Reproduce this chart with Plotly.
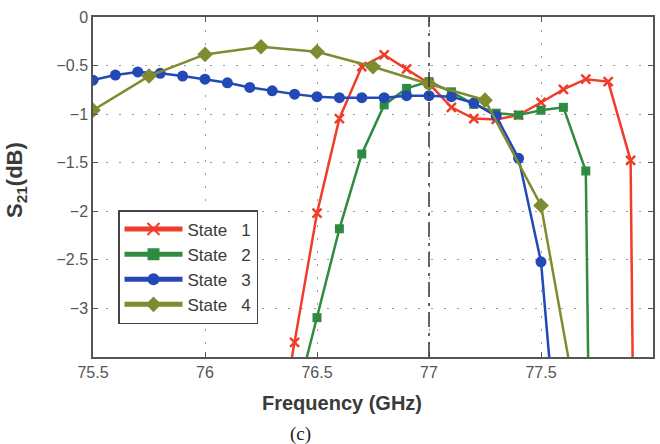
import plotly.graph_objects as go

# ---- data ----
freq1 = [76.3, 76.4, 76.5, 76.6, 76.7, 76.8, 76.9, 77.0, 77.1, 77.2, 77.3, 77.4, 77.5, 77.6, 77.7, 77.8, 77.9, 78.0]
s21_state1 = [-4.67, -3.35, -2.02, -1.045, -0.51, -0.39, -0.535, -0.685, -0.93, -1.045, -1.055, -1.01, -0.88, -0.745, -0.64, -0.665, -1.475, -24.0]

freq2 = [76.4, 76.5, 76.6, 76.7, 76.8, 76.9, 77.0, 77.1, 77.2, 77.3, 77.4, 77.5, 77.6, 77.7, 77.8]
s21_state2 = [-4.0, -3.095, -2.18, -1.41, -0.905, -0.735, -0.665, -0.77, -0.90, -0.99, -1.01, -0.96, -0.93, -1.585, -20.0]

freq3 = [75.5, 75.6, 75.7, 75.8, 75.9, 76.0, 76.1, 76.2, 76.3, 76.4, 76.5, 76.6, 76.7, 76.8, 76.9, 77.0, 77.1, 77.2, 77.3, 77.4, 77.5, 77.6]
s21_state3 = [-0.65, -0.598, -0.565, -0.58, -0.608, -0.64, -0.677, -0.725, -0.76, -0.794, -0.82, -0.83, -0.83, -0.83, -0.81, -0.81, -0.82, -0.885, -1.02, -1.455, -2.52, -5.2]

freq4 = [75.5, 75.75, 76.0, 76.25, 76.5, 76.75, 77.0, 77.25, 77.5, 77.75]
s21_state4 = [-0.96, -0.608, -0.385, -0.306, -0.357, -0.512, -0.69, -0.856, -1.94, -5.15]

series_names = ["State 1", "State 2", "State 3", "State 4"]
x_ticks = [75.5, 76, 76.5, 77, 77.5, 78]
x_ticklabels = ["75.5", "76", "76.5", "77", "77.5", "78"]
y_ticks = [0, -0.5, -1, -1.5, -2, -2.5, -3]
y_ticklabels = ["0", "\u22120.5", "\u22121", "\u22121.5", "\u22122", "\u22122.5", "\u22123"]
marker_freq = 77.0

colors = ["#f23c2a", "#2e8b40", "#2349b6", "#7f8b2e"]
symbols = ["x-thin", "square", "circle", "diamond"]
sizes = [9, 9, 11, 12]

NB = "\u00a0"

def legend_label(name):
    word, num = name.split(" ")
    return word + NB + NB + NB + num

fig = go.Figure()
for xs, ys, name, c, sym, sz in zip(
    [freq1, freq2, freq3, freq4],
    [s21_state1, s21_state2, s21_state3, s21_state4],
    series_names, colors, symbols, sizes):
    fig.add_trace(go.Scatter(
        x=xs, y=ys, name=legend_label(name), mode="lines+markers",
        line=dict(color=c, width=2.5),
        marker=dict(symbol=sym, size=sz, color=c,
                    line=dict(color=c, width=2.5 if sym == "x-thin" else 0)),
    ))

fig.add_shape(type="line", xref="x", yref="paper", x0=marker_freq, x1=marker_freq,
              y0=0, y1=1, line=dict(color="#333333", width=1.5, dash="longdashdot"),
              layer="above")

axis_common = dict(
    showline=True, linecolor="#555555", linewidth=1.5, mirror="ticks",
    ticks="inside", ticklen=5, tickcolor="#555555",
    showgrid=True, gridcolor="#9a9a9a", gridwidth=1, griddash="2px,11px",
    zeroline=False, automargin=False,
    tickfont=dict(family="Liberation Sans, Arial", size=16, color="#555555"),
)

fig.update_xaxes(range=[75.5, 78], tickvals=x_ticks, ticktext=x_ticklabels, **axis_common)
fig.update_yaxes(range=[-3.5, 0], tickvals=y_ticks, ticktext=y_ticklabels, **axis_common)

W0, W1, H0, H1 = 93, 653, 17, 357
def px(x):
    return (x - W0) / (W1 - W0)
def py(y):
    return (H1 - y) / (H1 - H0)

fig.add_annotation(text="<b>Frequency (GHz)</b>", xref="paper", yref="paper",
                   x=px(342), y=py(403), xanchor="center", yanchor="middle",
                   showarrow=False, font=dict(family="Liberation Sans, Arial", size=20, color="#3a3a3a"))
fig.add_annotation(text="(c)", xref="paper", yref="paper",
                   x=px(300), y=py(434), xanchor="center", yanchor="middle",
                   showarrow=False, font=dict(family="Liberation Serif, Times New Roman", size=19, color="#222222"))
fig.add_annotation(text="<b>S<sub>21</sub>(dB)</b>", xref="paper", yref="paper",
                   x=px(16), y=py(180), xanchor="center", yanchor="middle", textangle=-90,
                   showarrow=False, font=dict(family="Liberation Sans, Arial", size=22, color="#3a3a3a"))

fig.update_layout(
    width=660, height=444,
    margin=dict(l=W0, r=660 - W1, t=H0, b=444 - H1),
    paper_bgcolor="white", plot_bgcolor="white",
    showlegend=True,
    legend=dict(x=px(118), y=py(210), xanchor="left", yanchor="top",
                bgcolor="white", bordercolor="#444444", borderwidth=1.5,
                font=dict(family="Liberation Sans, Arial", size=17, color="#3a3a3a"),
                tracegroupgap=0, itemsizing="constant", itemwidth=58),
)

fig.write_html("out.html")
